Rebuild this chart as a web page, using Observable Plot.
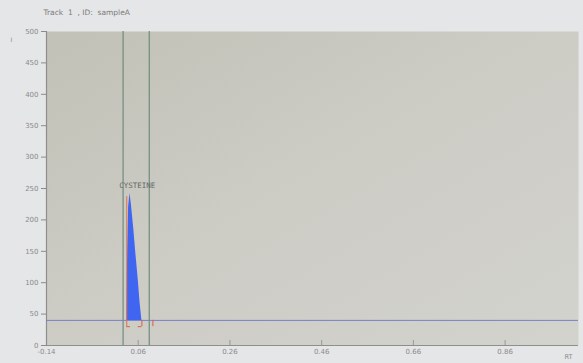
<!DOCTYPE html>
<html>
<head>
<meta charset="utf-8">
<script src="https://cdn.jsdelivr.net/npm/d3@7"></script>
<script src="https://cdn.jsdelivr.net/npm/@observablehq/plot@0.6"></script>
<style>
  html, body { margin: 0; padding: 0; background: #e5e6e8; }
  #chart { width: 583px; height: 363px; }
</style>
</head>
<body>
<div id="chart"></div>
<script>
// ---- data ----
const title = "Track  1  , ID:  sampleA";
const xTicks = [-0.14, 0.06, 0.26, 0.46, 0.66, 0.86];
const xTickLabels = ["-0.14", "0.06", "0.26", "0.46", "0.66", "0.86"];
const yTicks = [0, 50, 100, 150, 200, 250, 300, 350, 400, 450, 500];
const baselineValue = 40;
const windowBounds = [0.027, 0.084];
const peakName = "CYSTEINE";
const peakRT = [0.035, 0.037, 0.039, 0.042, 0.045, 0.050, 0.055, 0.060, 0.064, 0.068];
const peakSignal = [40, 150, 220, 242, 225, 188, 145, 105, 68, 40];
const peakStart = 0.035, peakApex = 0.042, peakEnd = 0.068, peakApexValue = 242;
const extraMarker = 0.092;

const peak = peakRT.map((x, i) => ({x, y: peakSignal[i]}));

const plot = Plot.plot({
  width: 583,
  height: 363,
  marginLeft: 46,
  marginTop: 31,
  marginRight: 5,
  marginBottom: 18,
  style: {background: "transparent", fontFamily: "DejaVu Sans, sans-serif", color: "#888"},
  x: {domain: [-0.14, 1.02]},
  y: {domain: [0, 500]},
  marks: [
    Plot.frame({fill: "url(#plotbg)", stroke: null}),
    // axes
    Plot.axisY({ticks: yTicks, tickSize: 5, tickPadding: 3, fontSize: 7, color: "#8a8a8a", label: null, stroke: "#8a8a8a"}),
    Plot.axisX({ticks: xTicks, tickFormat: d => xTickLabels[xTicks.indexOf(d)], tickSize: 0, tickPadding: 4, fontSize: 7, color: "#8a8a8a", label: null}),
    Plot.ruleX(xTicks, {y1: 0, y2: 8, stroke: "#8a8a8a", strokeWidth: 0.8}),
    Plot.ruleY([0], {stroke: "#8e8e8e", strokeWidth: 1.2}),
    Plot.ruleX([-0.14], {stroke: "#8e8e8e", strokeWidth: 1.2}),
    // window lines
    Plot.ruleX(windowBounds, {stroke: "#678676", strokeWidth: 1.1}),
    // baseline
    Plot.ruleY([baselineValue], {stroke: "#7380c6", strokeWidth: 1}),
    // peak
    Plot.areaY(peak, {x: "x", y1: baselineValue, y2: "y", fill: "#4065f0", curve: "linear"}),
    // peak markers
    Plot.ruleX([peakStart], {y1: 30, y2: peakApexValue - 5, stroke: "#e0704a", strokeWidth: 1}),
    Plot.ruleX([peakEnd], {y1: 30, y2: baselineValue, stroke: "#d9603c", strokeWidth: 1}),
    Plot.ruleY([30], {x1: peakStart, x2: peakStart + 0.008, stroke: "#d9603c", strokeWidth: 1}),
    Plot.ruleY([30], {x1: peakEnd - 0.008, x2: peakEnd, stroke: "#d9603c", strokeWidth: 1}),
    Plot.ruleX([extraMarker], {y1: 30, y2: baselineValue, stroke: "#d9603c", strokeWidth: 1}),
    // label
    Plot.text([peakName], {x: peakApex + 0.016, y: peakApexValue, dy: -8, text: d => d, fontSize: 7.5, fill: "#666", fontFamily: "DejaVu Sans Mono, monospace"}),
    // title and misc
    Plot.text([title], {frameAnchor: "top-left", dx: -3, dy: -22, text: d => d, fontSize: 7.5, fill: "#7a7a7a", textAnchor: "start"}),
    Plot.text(["RT"], {frameAnchor: "bottom-right", dx: -6, dy: 13, text: d => d, fontSize: 6.5, fill: "#8a8a8a", textAnchor: "end"}),
    Plot.text(["I"], {frameAnchor: "top-left", dx: -36, dy: 6, text: d => d, fontSize: 6, fill: "#8a8a8a"})
  ]
});

// gradient for the plot background
const ns = "http://www.w3.org/2000/svg";
const defs = document.createElementNS(ns, "defs");
defs.innerHTML = `<linearGradient id="plotbg" x1="0" y1="0" x2="1" y2="1">
  <stop offset="0" stop-color="#c2c1b7"/>
  <stop offset="0.45" stop-color="#cccbc4"/>
  <stop offset="1" stop-color="#d3d3ce"/>
</linearGradient>`;
plot.insertBefore(defs, plot.firstChild);
document.getElementById("chart").appendChild(plot);
</script>
</body>
</html>
